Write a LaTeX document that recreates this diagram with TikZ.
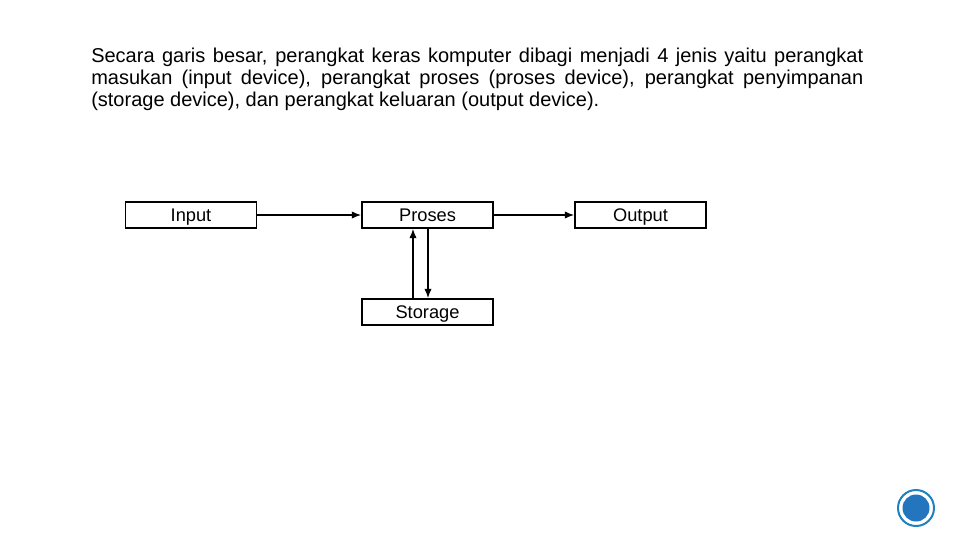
\documentclass[tikz,border=0pt]{standalone}
\usepackage{fontspec}
\setmainfont{Liberation Sans}
\usetikzlibrary{arrows.meta}
\definecolor{ringc}{RGB}{30,130,190}
\definecolor{dotc}{RGB}{35,118,190}
\begin{document}
\begin{tikzpicture}[x=0.75pt,y=-0.75pt,
  box/.style={draw,line width=1.2pt,minimum width=131*0.75pt,minimum height=26*0.75pt,inner sep=0pt,text height=10pt,text depth=0pt,font=\fontsize{13.7pt}{16pt}\selectfont},
  arr/.style={-{Latex[length=7pt,width=5.5pt]},line width=1pt},
  para/.style={anchor=base west,inner sep=0pt,font=\fontsize{15pt}{18pt}\selectfont}]
\useasboundingbox (0,0) rectangle (960,540);
\node[para] (l1) at (91,62) {\makebox[579pt][s]{Secara garis besar, perangkat keras komputer dibagi menjadi 4 jenis yaitu perangkat}};
\node[para] (l2) at (91,84) {\makebox[579pt][s]{masukan (input device), perangkat proses (proses device), perangkat penyimpanan}};
\node[para] (l3) at (91,106) {(storage device), dan perangkat keluaran (output device).};
\node[box] (in) at (191,215) {Input};
\node[box] (pr) at (427.5,215) {Proses};
\node[box] (out) at (640.5,215) {Output};
\node[box] (st) at (427.5,312) {Storage};
\draw[arr] (in) -- (pr);
\draw[arr] (pr) -- (out);
\draw[arr] (st.north -| 413,0) -- (pr.south -| 413,0);
\draw[arr] (pr.south -| 428,0) -- (st.north -| 428,0);
\node[circle,draw=ringc,line width=1.5pt,minimum size=36*0.75pt] (ring) at (916,508) {};
\node[circle,fill=dotc,minimum size=27*0.75pt] (dot) at (916,508) {};
\end{tikzpicture}
\end{document}
